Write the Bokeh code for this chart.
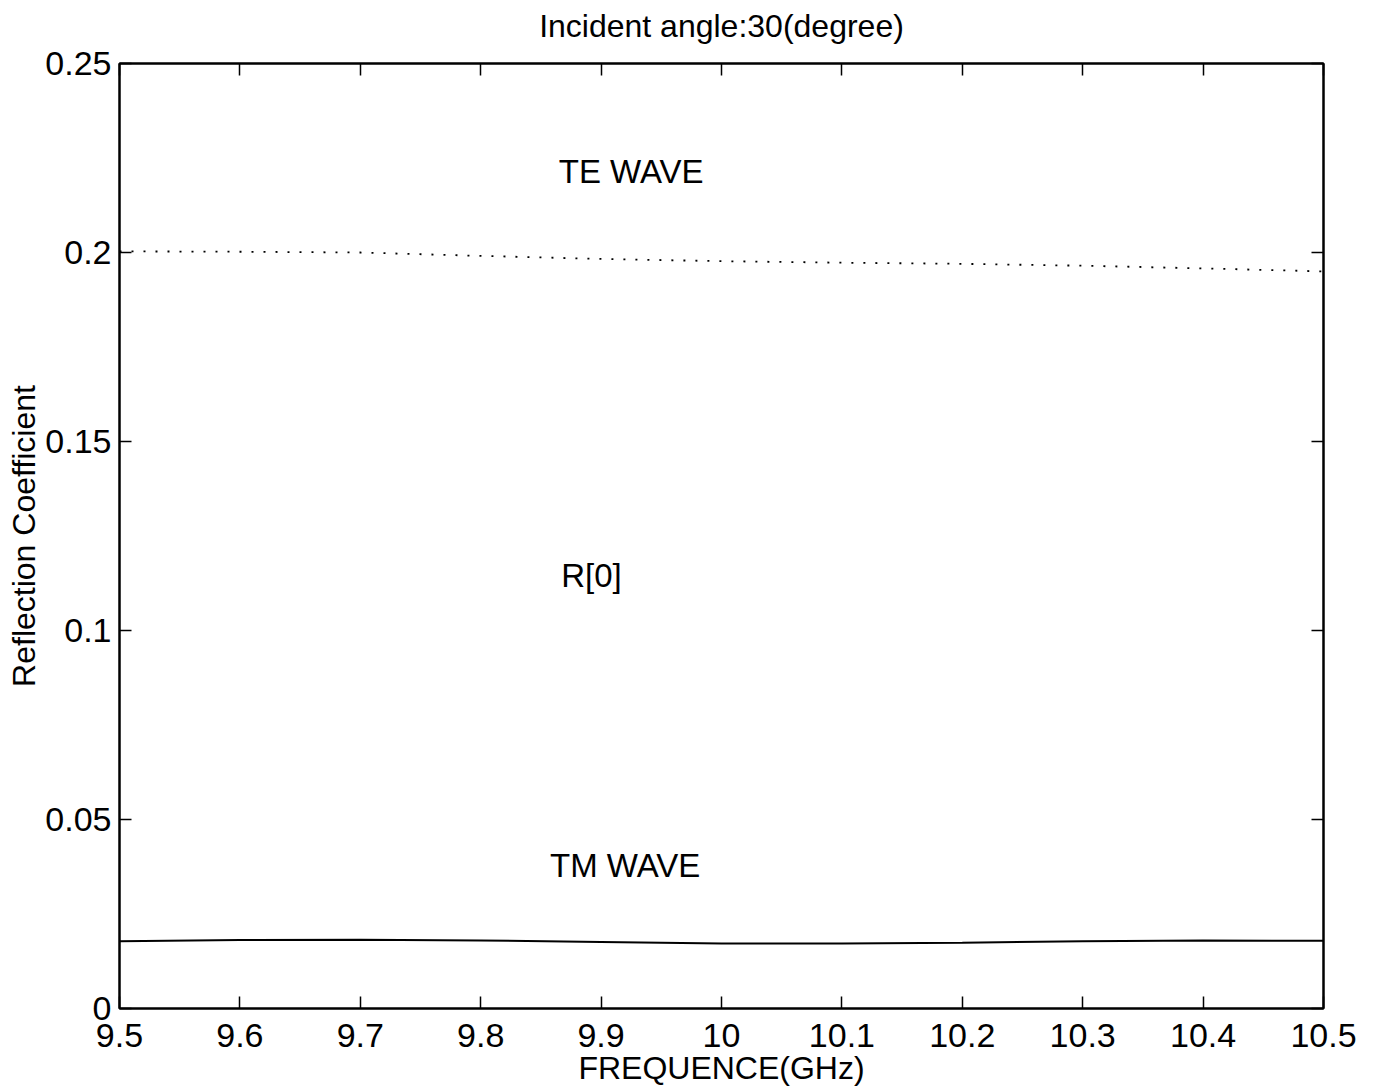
from bokeh.plotting import figure
from bokeh.models import LinearAxis, FixedTicker, Range1d, CustomJSTickFormatter, Label
from bokeh.embed import file_html
from bokeh.resources import INLINE

freq = [9.5, 9.6, 9.7, 9.8, 9.9, 10.0, 10.1, 10.2, 10.3, 10.4, 10.5]
te_wave = [0.2003, 0.2002, 0.2000, 0.1991, 0.1983, 0.1977, 0.1973, 0.1970, 0.1965, 0.1958, 0.1950]
tm_wave = [0.0178, 0.0181, 0.0182, 0.0180, 0.0176, 0.0172, 0.0172, 0.0174, 0.0178, 0.0180, 0.0179]
x_ticks = [9.5, 9.6, 9.7, 9.8, 9.9, 10.0, 10.1, 10.2, 10.3, 10.4, 10.5]
y_ticks = [0, 0.05, 0.1, 0.15, 0.2, 0.25]
annotations = [("TE WAVE", 9.925, 0.2215), ("R[0]", 9.892, 0.1146), ("TM WAVE", 9.920, 0.0378)]
title_text = "Incident angle:30(degree)"

FONT = "Liberation Sans"

p = figure(width=1374, height=1092, output_backend="svg", toolbar_location=None,
           x_range=Range1d(9.5, 10.5), y_range=Range1d(0, 0.25),
           min_border_left=119, min_border_right=51, min_border_top=63, min_border_bottom=84,
           x_axis_label="FREQUENCE(GHz)", y_axis_label="Reflection Coefficient")
p.grid.visible = False
p.outline_line_color = "black"
p.outline_line_width = 2
p.background_fill_color = "white"
p.border_fill_color = "white"

for ax in (p.xaxis[0], p.yaxis[0]):
    ax.major_tick_in = 12
    ax.major_tick_out = 0
    ax.minor_tick_in = 0
    ax.minor_tick_out = 0
    ax.axis_line_width = 2
    ax.major_tick_line_width = 1.5
    ax.major_label_text_font = FONT
    ax.major_label_text_font_size = "34px"
    ax.major_label_text_color = "black"
    ax.axis_label_text_font = FONT
    ax.axis_label_text_font_size = "32px"
    ax.axis_label_text_font_style = "normal"
    ax.axis_label_text_color = "black"

p.xaxis[0].ticker = FixedTicker(ticks=x_ticks)
p.yaxis[0].ticker = FixedTicker(ticks=y_ticks)
p.xaxis[0].major_label_standoff = 15
p.xaxis[0].axis_label_standoff = 0
p.yaxis[0].major_label_standoff = 8
p.yaxis[0].axis_label_standoff = 0
p.yaxis[0].formatter = CustomJSTickFormatter(code="return tick == 0 ? '0' : String(Math.round(tick*100)/100);")
p.xaxis[0].formatter = CustomJSTickFormatter(code="return String(Math.round(tick*10)/10);")

blank = CustomJSTickFormatter(code="return '';")
# top axis carries the chart title as its axis label
top = LinearAxis(ticker=FixedTicker(ticks=x_ticks), formatter=blank, major_tick_in=12, major_tick_out=0,
                 minor_tick_in=0, minor_tick_out=0, axis_line_width=2, major_tick_line_width=1.5,
                 major_label_standoff=0, major_label_text_font_size="1px",
                 axis_label=title_text, axis_label_text_font=FONT, axis_label_text_font_size="32px",
                 axis_label_text_font_style="normal", axis_label_text_color="black",
                 axis_label_standoff=20)
right = LinearAxis(ticker=FixedTicker(ticks=y_ticks), formatter=blank, major_tick_in=12, major_tick_out=0,
                   minor_tick_in=0, minor_tick_out=0, axis_line_width=2, major_tick_line_width=1.5,
                   major_label_standoff=0, major_label_text_font_size="1px")
p.add_layout(top, "above")
p.add_layout(right, "right")

p.line(freq, te_wave, line_color="black", line_width=1.8, line_dash="2 10")
p.line(freq, tm_wave, line_color="black", line_width=2)

for txt, x, y in annotations:
    p.add_layout(Label(x=x, y=y, text=txt, text_font=FONT, text_font_size="33px",
                       text_align="center", text_baseline="middle", text_color="black"))

open("out.html", "w").write(file_html(p, INLINE))
